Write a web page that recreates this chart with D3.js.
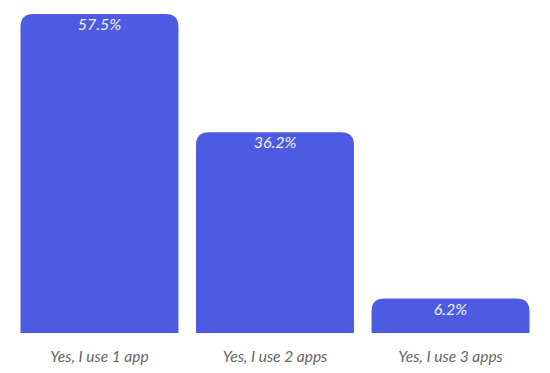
<!DOCTYPE html>
<html><head><meta charset="utf-8">
<script src="https://cdn.jsdelivr.net/npm/d3@7"></script>
<style>body{margin:0;background:#fff}svg{display:block}</style>
</head><body>
<svg id="chart" width="550" height="373"></svg>
<script>
const categories = ["Yes, I use 1 app", "Yes, I use 2 apps", "Yes, I use 3 apps"];
const values = [57.5, 36.2, 6.2];
const valueLabels = ["57.5%", "36.2%", "6.2%"];

const svg = d3.select("#chart");
const x = d3.scaleBand().domain(categories).range([20.5, 529.5]).paddingInner(0.1).paddingOuter(0);
const y = d3.scaleLinear().domain([0, 57.5]).range([333, 14]);
const r = 13;
const color = "#4c5be1";

function barPath(x0, w, yt, yb) {
  const rr = Math.min(r, (yb - yt), w / 2);
  return `M${x0},${yb}V${yt + rr}Q${x0},${yt} ${x0 + rr},${yt}H${x0 + w - rr}Q${x0 + w},${yt} ${x0 + w},${yt + rr}V${yb}Z`;
}

svg.selectAll("path.bar").data(categories).join("path")
  .attr("class", "bar")
  .attr("fill", color)
  .attr("d", (c, i) => barPath(x(c), x.bandwidth(), y(values[i]), y(0)));

svg.selectAll("text.val").data(categories).join("text")
  .attr("class", "val")
  .attr("x", c => x(c) + x.bandwidth() / 2)
  .attr("y", (c, i) => y(values[i]) + 16)
  .attr("text-anchor", "middle")
  .attr("fill", "#f0f1ff")
  .style("font-family", "Lato, sans-serif")
  .style("font-style", "italic")
  .style("font-size", "16px")
  .text((c, i) => valueLabels[i]);

const xAxis = d3.axisBottom(x).tickSize(0).tickPadding(0);
const g = svg.append("g").attr("transform", "translate(0,351)").call(xAxis);
g.select(".domain").remove();
g.selectAll("text")
  .attr("dy", "0.71em")
  .attr("fill", "#666")
  .style("font-family", "Lato, sans-serif")
  .style("font-style", "italic")
  .style("font-size", "15.5px");
</script>
</body></html>
